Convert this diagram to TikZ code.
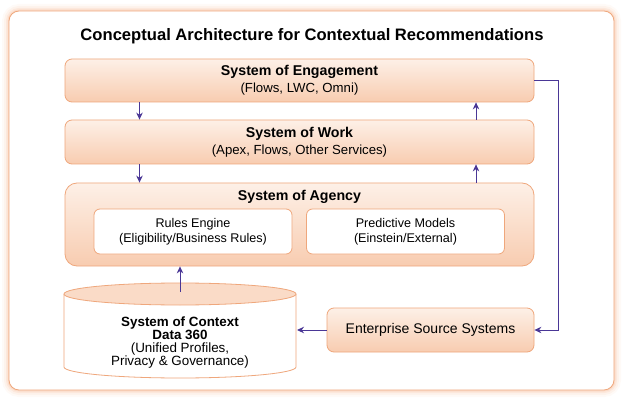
\documentclass[tikz,border=0pt]{standalone}
\usepackage{fontspec}
\setmainfont{Liberation Sans}
\usetikzlibrary{arrows.meta}
\definecolor{peachline}{HTML}{EFA77C}
\definecolor{peachtop}{HTML}{FDF0E7}
\definecolor{peachbot}{HTML}{F8CCB0}
\definecolor{peachcap}{HTML}{FADBC7}
\definecolor{glowc}{HTML}{F7BE9C}
\definecolor{linkblue}{HTML}{4A3796}
\begin{document}
\begin{tikzpicture}[x=1pt,y=-1pt,
    sysbox/.style={draw=peachline,line width=0.8pt,rounded corners=7pt,top color=peachtop,bottom color=peachbot,align=center,inner sep=0pt,minimum width=469},
    subbox/.style={draw=peachline,line width=0.8pt,rounded corners=6pt,fill=white,align=center,inner sep=0pt,minimum width=198,minimum height=45,font=\fontsize{12.6}{15.5}\selectfont},
    link/.style={draw=linkblue,line width=1pt,-{Stealth[length=7pt,width=6.5pt]}},
    ttl/.style={font=\fontsize{14.2}{16}\selectfont\bfseries}]
    \useasboundingbox (0,0) rectangle (624,401);
    \foreach \w/\o in {14/0.08,10/0.12,6/0.2,3/0.3}
        \draw[glowc,line width=\w pt,opacity=\o,rounded corners=10pt] (9,11) rectangle (614,390);
    \draw[peachline,line width=0.8pt,fill=white,rounded corners=10pt] (9,11) rectangle (614,390);
    \node[font=\fontsize{16.6}{18}\selectfont\bfseries] (title) at (312,36) {Conceptual Architecture for Contextual Recommendations};
    \node[sysbox,minimum height=43] (eng) at (299.5,80.5) {{\fontsize{14.2}{16}\selectfont\bfseries System of Engagement}\\[3.5pt]{\fontsize{13.2}{15}\selectfont (Flows, LWC, Omni)}};
    \node[sysbox,minimum height=44] (work) at (299.5,142) {{\fontsize{14.2}{16}\selectfont\bfseries System of Work}\\[3.5pt]{\fontsize{13.2}{15}\selectfont (Apex, Flows, Other Services)}};
    \node[sysbox,minimum height=83,rounded corners=12pt] (agency) at (299.5,224.5) {};
    \node[ttl] (agencyttl) at (299.5,197) {System of Agency};
    \node[subbox] (rules) at (193,231.5) {Rules Engine\\(Eligibility/Business Rules)};
    \node[subbox] (models) at (405.5,231.5) {Predictive Models\\(Einstein/External)};
    \draw[peachline,line width=0.8pt,fill=white] (64,294) -- (64,367) arc[start angle=180,end angle=0,x radius=116,y radius=11] -- (296,294);
    \draw[peachline,line width=0.8pt,fill=peachcap] (180,294) ellipse[x radius=116,y radius=11];
    \coordinate (cyltop) at (180,292);
    \coordinate (cyleast) at (297,330);
    \node[align=center,font=\fontsize{13.4}{13}\selectfont] (context) at (180,343) {{\bfseries System of Context}\\{\bfseries Data 360}\\(Unified Profiles,\\Privacy \& Governance)};
    \node[sysbox,minimum width=207,minimum height=44,font=\fontsize{14}{16}\selectfont] (ent) at (430.5,330) {Enterprise Source Systems};
    \coordinate (lft) at (139.5,0);
    \coordinate (rgt) at (476,0);
    \draw[link] (eng.south -| lft) -- (work.north -| lft);
    \draw[link] (work.north -| rgt) -- (eng.south -| rgt);
    \draw[link] (work.south -| lft) -- (agency.north -| lft);
    \draw[link] (agency.north -| rgt) -- (work.south -| rgt);
    \draw[link] (cyltop) -- (agency.south -| cyltop);
    \draw[link] (ent.west) -- (cyleast);
    \draw[link] (eng.east) -- ++(24,0) |- (ent.east);
\end{tikzpicture}
\end{document}
